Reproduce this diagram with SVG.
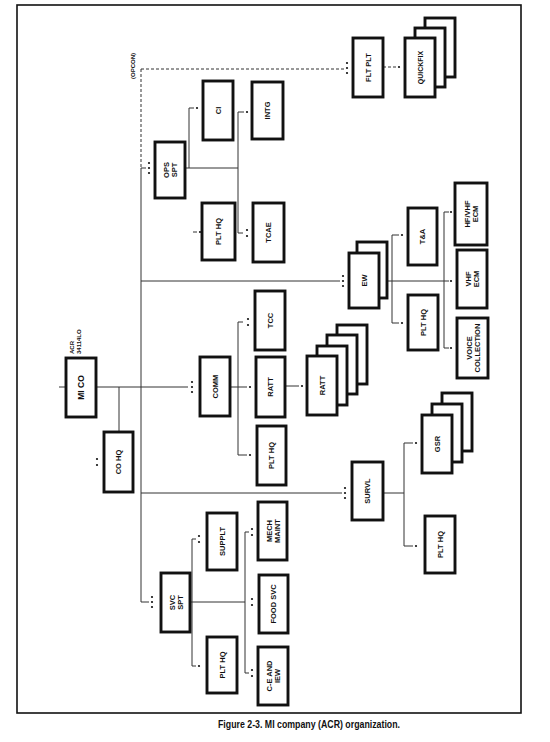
<svg xmlns="http://www.w3.org/2000/svg" width="550" height="742" viewBox="0 0 550 742">
<defs>
<style>
.box{fill:#fff;stroke:#111;stroke-width:2.9}
.ln{stroke:#333;stroke-width:1;fill:none}
.dash{stroke-dasharray:3,2}
.d{fill:#111}
.t{font-family:"Liberation Sans",Arial,sans-serif;font-weight:bold;font-size:7.5px;fill:#111;text-anchor:middle;dominant-baseline:central}
.s{font-family:"Liberation Sans",Arial,sans-serif;font-weight:bold;font-size:6px;fill:#111}
.cap{font-family:"Liberation Sans",Arial,sans-serif;font-weight:bold;font-size:10px;fill:#111}
</style>
</defs>
<rect x="0" y="0" width="550" height="742" fill="#fff"/>
<rect x="17" y="5" width="504" height="708" fill="none" stroke="#111" stroke-width="1.6"/>

<g id="connectors">
<line class="ln" x1="59" y1="387" x2="66" y2="387"/>
<line class="ln" x1="96" y1="387" x2="188" y2="387"/>
<line class="ln" x1="119" y1="387" x2="119" y2="432"/>
<line class="ln dash" x1="141" y1="69" x2="141" y2="168"/>
<line class="ln" x1="141" y1="168" x2="141" y2="602"/>
<line class="ln dash" x1="141" y1="69" x2="344" y2="69"/>
<line class="ln dash" x1="383" y1="67" x2="396" y2="67"/>
<line class="ln" x1="141" y1="168" x2="146" y2="168"/>
<line class="ln" x1="185" y1="168" x2="238" y2="168"/>
<line class="ln" x1="189" y1="108" x2="189" y2="168"/>
<line class="ln" x1="189" y1="108" x2="194" y2="108"/>
<line class="ln" x1="238" y1="112" x2="238" y2="233"/>
<line class="ln" x1="238" y1="112" x2="244" y2="112"/>
<line class="ln" x1="238" y1="233" x2="243" y2="233"/>
<line class="ln" x1="193" y1="232" x2="197" y2="232"/>
<line class="ln" x1="141" y1="281" x2="340" y2="281"/>
<line class="ln" x1="380" y1="281" x2="449" y2="281"/>
<line class="ln" x1="392" y1="235" x2="392" y2="323"/>
<line class="ln" x1="392" y1="235" x2="399" y2="235"/>
<line class="ln" x1="392" y1="323" x2="399" y2="323"/>
<line class="ln" x1="444" y1="212" x2="444" y2="348"/>
<line class="ln" x1="444" y1="212" x2="449" y2="212"/>
<line class="ln" x1="444" y1="348" x2="449" y2="348"/>
<line class="ln" x1="230" y1="387" x2="247" y2="387"/>
<line class="ln" x1="238" y1="322" x2="238" y2="455"/>
<line class="ln" x1="238" y1="322" x2="243" y2="322"/>
<line class="ln" x1="238" y1="455" x2="247" y2="455"/>
<line class="ln" x1="285" y1="386" x2="299" y2="386"/>
<line class="ln" x1="141" y1="493" x2="342" y2="493"/>
<line class="ln" x1="383" y1="493" x2="404" y2="493"/>
<line class="ln" x1="404" y1="443" x2="404" y2="546"/>
<line class="ln" x1="404" y1="443" x2="413" y2="443"/>
<line class="ln" x1="404" y1="546" x2="413" y2="546"/>
<line class="ln" x1="141" y1="602" x2="149" y2="602"/>
<line class="ln" x1="190" y1="602" x2="245" y2="602"/>
<line class="ln" x1="192" y1="539" x2="192" y2="666"/>
<line class="ln" x1="192" y1="539" x2="196" y2="539"/>
<line class="ln" x1="192" y1="666" x2="196" y2="666"/>
<line class="ln" x1="245" y1="532" x2="245" y2="673"/>
<line class="ln" x1="245" y1="532" x2="249" y2="532"/>
<line class="ln" x1="245" y1="673" x2="249" y2="673"/>
<g class="d">
<circle cx="192" cy="382" r="1.1"/><circle cx="192" cy="387" r="1.1"/><circle cx="192" cy="392" r="1.1"/>
<circle cx="97" cy="459" r="1.1"/><circle cx="97" cy="465" r="1.1"/>
<circle cx="347" cy="63" r="1.1"/><circle cx="347" cy="68" r="1.1"/><circle cx="347" cy="73" r="1.1"/>
<circle cx="399" cy="67" r="1.1"/>
<circle cx="149" cy="163" r="1.1"/><circle cx="149" cy="168" r="1.1"/><circle cx="149" cy="173" r="1.1"/>
<circle cx="197" cy="108" r="1.1"/>
<circle cx="247" cy="112" r="1.1"/>
<circle cx="247" cy="230" r="1.1"/><circle cx="247" cy="236" r="1.1"/>
<circle cx="200" cy="232" r="1.1"/>
<circle cx="343" cy="276" r="1.1"/><circle cx="343" cy="281" r="1.1"/><circle cx="343" cy="286" r="1.1"/>
<circle cx="402" cy="235" r="1.1"/><circle cx="402" cy="323" r="1.1"/>
<circle cx="451" cy="212" r="1.1"/><circle cx="451" cy="281" r="1.1"/><circle cx="451" cy="348" r="1.1"/>
<circle cx="248" cy="319" r="1.1"/><circle cx="248" cy="325" r="1.1"/>
<circle cx="250" cy="387" r="1.1"/>
<circle cx="250" cy="455" r="1.1"/>
<circle cx="302" cy="386" r="1.1"/>
<circle cx="345" cy="488" r="1.1"/><circle cx="345" cy="493" r="1.1"/><circle cx="345" cy="498" r="1.1"/>
<circle cx="416" cy="443" r="1.1"/><circle cx="416" cy="546" r="1.1"/>
<circle cx="152" cy="597" r="1.1"/><circle cx="152" cy="602" r="1.1"/><circle cx="152" cy="607" r="1.1"/>
<circle cx="199" cy="536" r="1.1"/><circle cx="199" cy="542" r="1.1"/>
<circle cx="199" cy="666" r="1.1"/>
<circle cx="252" cy="529" r="1.1"/><circle cx="252" cy="535" r="1.1"/>
<circle cx="252" cy="599" r="1.1"/><circle cx="252" cy="605" r="1.1"/>
<circle cx="252" cy="670" r="1.1"/><circle cx="252" cy="676" r="1.1"/>
</g>
</g>

<text class="s" transform="translate(135,79) rotate(-90)">(OPCON)</text>

<g id="mi-co">
<rect class="box" x="66" y="358" width="30" height="59"/>
<text class="t" style="font-size:8.5px" transform="translate(81,387.5) rotate(-90)">MI CO</text>
<text class="s" transform="translate(74,354) rotate(-90)">ACR</text>
<text class="s" transform="translate(81,354) rotate(-90)">34114LO</text>
</g>
<g id="co-hq">
<rect class="box" x="104" y="432" width="29" height="60"/>
<text class="t" transform="translate(118.5,462) rotate(-90)">CO HQ</text>
</g>
<g id="comm">
<rect class="box" x="200" y="357" width="30" height="59"/>
<text class="t" transform="translate(215,386.5) rotate(-90)">COMM</text>
</g>
<g id="ops-spt">
<rect class="box" x="155" y="142" width="30" height="56"/>
<text class="t" transform="translate(170,170) rotate(-90)"><tspan x="0" y="-4">OPS</tspan><tspan x="0" y="4">SPT</tspan></text>
</g>
<g id="ci">
<rect class="box" x="203" y="81" width="30" height="59"/>
<text class="t" transform="translate(218,110.5) rotate(-90)">CI</text>
</g>
<g id="intg">
<rect class="box" x="252" y="82" width="31" height="57"/>
<text class="t" transform="translate(267.5,110.5) rotate(-90)">INTG</text>
</g>
<g id="plt-hq-ops">
<rect class="box" x="202" y="203" width="33" height="57"/>
<text class="t" transform="translate(218.5,231.5) rotate(-90)">PLT HQ</text>
</g>
<g id="tcae">
<rect class="box" x="253" y="203" width="31" height="59"/>
<text class="t" transform="translate(268.5,232.5) rotate(-90)">TCAE</text>
</g>
<g id="flt-plt">
<rect class="box" x="353" y="38" width="30" height="59"/>
<text class="t" transform="translate(368,67.5) rotate(-90)">FLT PLT</text>
</g>
<g id="quickfix">
<rect class="box" x="425" y="18" width="30" height="59"/>
<rect class="box" x="415" y="28" width="30" height="59"/>
<rect class="box" x="405" y="38" width="30" height="59"/>
<text class="t" style="font-size:7px" transform="translate(420,67.5) rotate(-90)">QUICKFIX</text>
</g>
<g id="tcc">
<rect class="box" x="255" y="291" width="30" height="59"/>
<text class="t" transform="translate(270,320.5) rotate(-90)">TCC</text>
</g>
<g id="ratt">
<rect class="box" x="256" y="357" width="29" height="60"/>
<text class="t" transform="translate(270.5,387) rotate(-90)">RATT</text>
</g>
<g id="plt-hq-comm">
<rect class="box" x="257" y="426" width="29" height="59"/>
<text class="t" transform="translate(271.5,455.5) rotate(-90)">PLT HQ</text>
</g>
<g id="ratt-stack">
<rect class="box" x="337" y="325" width="30" height="59"/>
<rect class="box" x="327" y="335" width="30" height="59"/>
<rect class="box" x="317" y="346" width="30" height="59"/>
<rect class="box" x="307" y="356" width="30" height="59"/>
<text class="t" transform="translate(322,385.5) rotate(-90)">RATT</text>
</g>
<g id="ew">
<rect class="box" x="357" y="242" width="30" height="56"/>
<rect class="box" x="349" y="253" width="30" height="55"/>
<text class="t" transform="translate(364,280.5) rotate(-90)">EW</text>
</g>
<g id="t-and-a">
<rect class="box" x="408" y="208" width="29" height="57"/>
<text class="t" transform="translate(422.5,236.5) rotate(-90)">T&amp;A</text>
</g>
<g id="plt-hq-ew">
<rect class="box" x="408" y="295" width="30" height="55"/>
<text class="t" transform="translate(423,322.5) rotate(-90)">PLT HQ</text>
</g>
<g id="hf-vhf-ecm">
<rect class="box" x="455" y="183" width="32" height="62"/>
<text class="t" transform="translate(471,214) rotate(-90)"><tspan x="0" y="-4">HF/VHF</tspan><tspan x="0" y="4">ECM</tspan></text>
</g>
<g id="vhf-ecm">
<rect class="box" x="457" y="250" width="30" height="58"/>
<text class="t" transform="translate(472,279) rotate(-90)"><tspan x="0" y="-4">VHF</tspan><tspan x="0" y="4">ECM</tspan></text>
</g>
<g id="voice-collection">
<rect class="box" x="457" y="318" width="31" height="60"/>
<text class="t" transform="translate(472.5,348) rotate(-90)"><tspan x="0" y="-4">VOICE</tspan><tspan x="0" y="4">COLLECTION</tspan></text>
</g>
<g id="survl">
<rect class="box" x="352" y="462" width="31" height="58"/>
<text class="t" transform="translate(367.5,491) rotate(-90)">SURVL</text>
</g>
<g id="gsr">
<rect class="box" x="442" y="393" width="30" height="58"/>
<rect class="box" x="432" y="404" width="30" height="58"/>
<rect class="box" x="422" y="415" width="30" height="58"/>
<text class="t" transform="translate(437,444) rotate(-90)">GSR</text>
</g>
<g id="plt-hq-survl">
<rect class="box" x="425" y="516" width="30" height="57"/>
<text class="t" transform="translate(440,544.5) rotate(-90)">PLT HQ</text>
</g>
<g id="svc-spt">
<rect class="box" x="161" y="573" width="29" height="59"/>
<text class="t" transform="translate(175.5,602.5) rotate(-90)"><tspan x="0" y="-4">SVC</tspan><tspan x="0" y="4">SPT</tspan></text>
</g>
<g id="supply-plt">
<rect class="box" x="207" y="513" width="30" height="57"/>
<text class="t" transform="translate(222,541.5) rotate(-90)">SUPPLT</text>
</g>
<g id="plt-hq-svc">
<rect class="box" x="207" y="637" width="30" height="56"/>
<text class="t" transform="translate(222,665) rotate(-90)">PLT HQ</text>
</g>
<g id="mech-maint">
<rect class="box" x="258" y="502" width="29" height="58"/>
<text class="t" transform="translate(272.5,531) rotate(-90)"><tspan x="0" y="-4">MECH</tspan><tspan x="0" y="4">MAINT</tspan></text>
</g>
<g id="food-svc">
<rect class="box" x="259" y="575" width="29" height="58"/>
<text class="t" transform="translate(273.5,604) rotate(-90)">FOOD SVC</text>
</g>
<g id="ce-and-iew">
<rect class="box" x="258" y="647" width="30" height="58"/>
<text class="t" transform="translate(273,676) rotate(-90)"><tspan x="0" y="-4">C-E AND</tspan><tspan x="0" y="4">IEW</tspan></text>
</g>

<text class="cap" x="218" y="728" textLength="182" lengthAdjust="spacingAndGlyphs">Figure 2-3.  MI company (ACR) organization.</text>
</svg>
